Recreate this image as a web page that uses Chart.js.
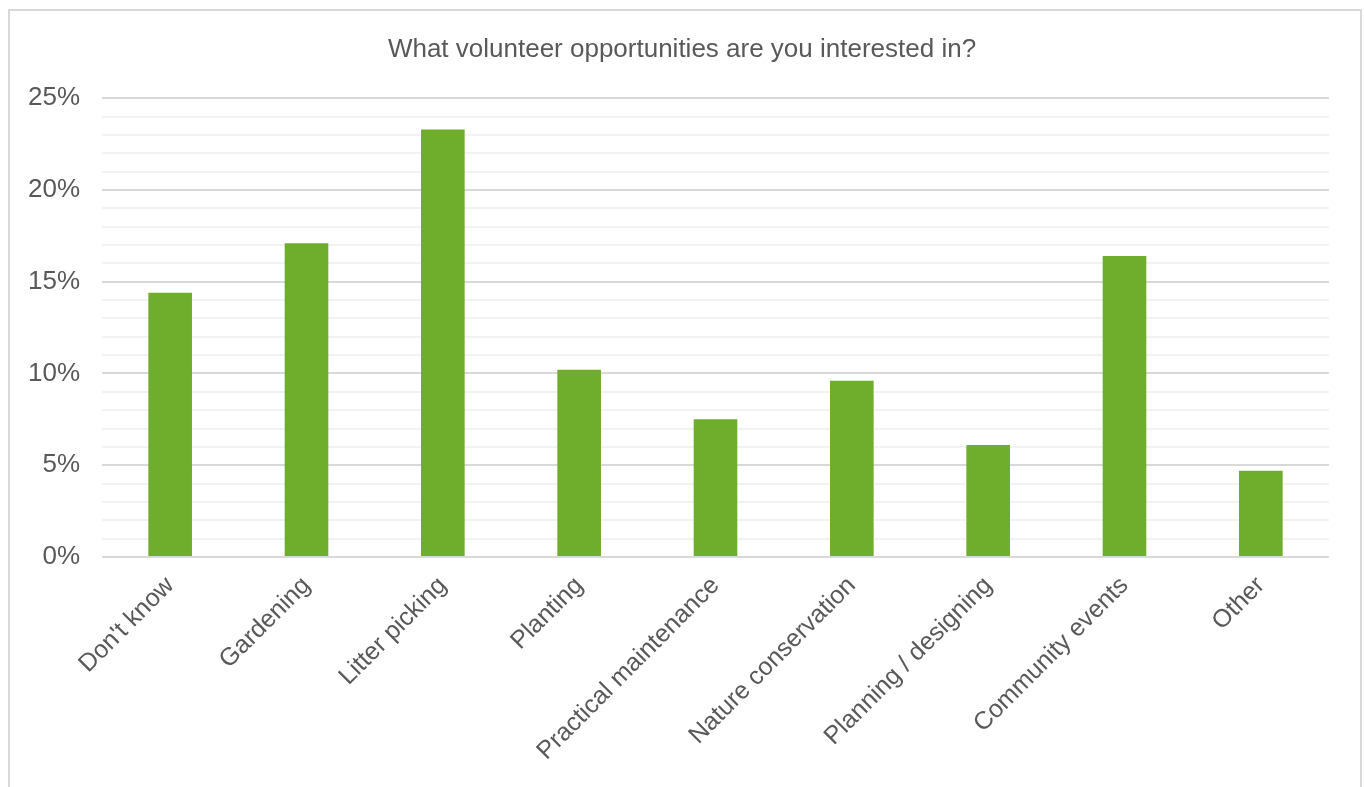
<!DOCTYPE html>
<html>
<head>
<meta charset="utf-8">
<title>Volunteer opportunities</title>
<script src="https://cdn.jsdelivr.net/npm/chart.js@4"></script>
<style>
  html, body { margin: 0; padding: 0; background: #fff; overflow: hidden; }
  #frame {
    position: absolute; left: 0; top: 0; width: 1364px; height: 787px;
  }
  #border {
    position: absolute; left: 8px; top: 9px; width: 1350px; height: 800px;
    border: 2px solid #d9d9d9; pointer-events: none;
  }
  canvas { position: absolute; left: 0; top: 0; }
</style>
</head>
<body>
<div id="frame">
  <canvas id="volunteerChart" width="1364" height="787"></canvas>
  <div id="border"></div>
</div>
<script>
// Catégories et pourcentages de réponses
const categories = [
  "Don't know", 'Gardening', 'Litter picking', 'Planting', 'Practical maintenance',
  'Nature conservation', 'Planning / designing', 'Community events', 'Other'
];
const percentages = [14.4, 17.1, 23.3, 10.2, 7.5, 9.6, 6.1, 16.4, 4.7];
const yTickLabels = ['0%', '5%', '10%', '15%', '20%', '25%'];

const textColor = '#595959';
const barColor = '#6fae2d';
const fontFamily = 'Liberation Sans, Arial, sans-serif';

// Lignes principales tous les 5 %, lignes secondaires tous les 1 %
function gridColor(ctx) {
  const v = ctx.tick ? ctx.tick.value : 0;
  return Math.round(v) % 5 === 0 ? '#d9d9d9' : '#f2f2f2';
}

const ctx = document.getElementById('volunteerChart').getContext('2d');
new Chart(ctx, {
  type: 'bar',
  data: {
    labels: categories,
    datasets: [{
      data: percentages,
      backgroundColor: barColor,
      borderWidth: 0,
      barPercentage: 0.32,
      categoryPercentage: 1
    }]
  },
  options: {
    responsive: false,
    animation: false,
    layout: { padding: { top: 34, right: 0, left: 0, bottom: 0 } },
    plugins: {
      legend: { display: false },
      tooltip: { enabled: false },
      title: {
        display: true,
        text: 'What volunteer opportunities are you interested in?',
        color: textColor,
        font: { family: fontFamily, size: 26, weight: 'normal' },
        padding: { top: 0, bottom: 33 }
      }
    },
    scales: {
      x: {
        grid: { display: false, drawTicks: false },
        border: { display: false },
        ticks: {
          color: textColor,
          font: { family: fontFamily, size: 25 },
          minRotation: 45,
          maxRotation: 45,
          padding: 14,
          autoSkip: false
        },
        afterFit: scale => { scale.height = 230; }
      },
      y: {
        min: 0,
        max: 25,
        grid: { color: gridColor, lineWidth: 2, drawTicks: false },
        border: { display: false },
        ticks: {
          stepSize: 1,
          autoSkip: false,
          color: textColor,
          padding: 22,
          font: { family: fontFamily, size: 26 },
          callback: v => (v % 5 === 0 ? yTickLabels[v / 5] : '')
        },
        afterFit: scale => { scale.width = 102; }
      },
      // marge vide à droite pour que le titre reste centré sur toute la largeur
      yRight: {
        position: 'right',
        grid: { display: false, drawTicks: false },
        border: { display: false },
        ticks: { display: false },
        afterFit: scale => { scale.width = 35; }
      }
    }
  }
});
</script>
</body>
</html>
